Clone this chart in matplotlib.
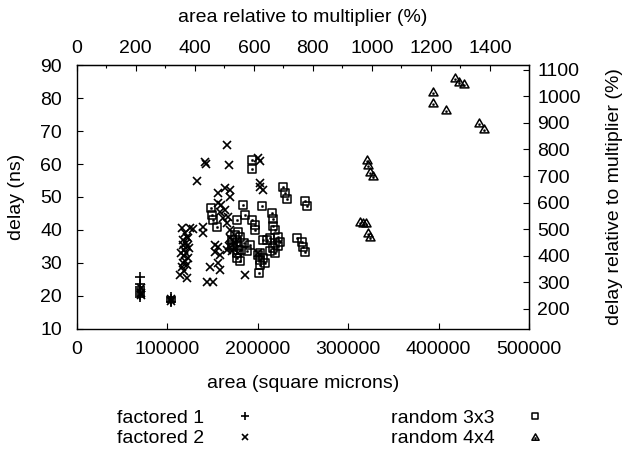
import numpy as np
import matplotlib.pyplot as plt
from matplotlib.path import Path

plt.rcParams['font.family'] = ['Liberation Sans', 'DejaVu Sans']
plt.rcParams['font.size'] = 14

# multiplier reference (for the relative axes)
mult_area = 32636.0   # square microns
mult_delay = 8.05     # ns

# factored 1 (area, delay)
f1_area = [70000, 70000, 70000, 70000, 70000, 70000, 70000, 70000,
           104000, 104000, 104000, 104000]
f1_delay = [25.8, 23.5, 22.8, 22.2, 21.5, 20.8, 20.3, 19.8,
            19.8, 19.0, 18.5, 18.1]

# factored 2
f2_area = [71000, 71000, 71000, 104500, 104500,
           116100, 125300, 119700, 121600, 118000, 120500, 122500, 119000,
           121000, 118500, 123000, 120000, 117500, 122000, 116100, 114200,
           121600, 119000, 124000, 117000, 123500, 115500, 128600,
           132700, 141800, 143000, 165800, 168500,
           140000, 140000,
           152900, 156500, 152900, 158400,
           147400, 156500, 158400,
           143700, 151000,
           156500, 163900, 169500, 169500, 156500, 158400, 162100, 165800,
           169500, 160000, 164000, 167000,
           200800, 202600, 203000, 206300, 202600,
           186100, 200800,
           172000, 175000, 168000, 170000, 166000, 178000]
f2_delay = [22.5, 21.0, 20.3, 19.0, 18.6,
            40.5, 40.5, 39.0, 38.0, 37.0, 36.0, 35.0, 34.0,
            33.0, 32.0, 31.5, 30.5, 30.0, 29.5, 28.9, 26.4,
            25.4, 27.5, 34.5, 35.5, 37.5, 33.0, 40.2,
            55.0, 60.6, 60.0, 65.8, 59.7,
            40.8, 39.0,
            35.5, 34.9, 33.4, 32.4,
            28.9, 29.9, 27.9,
            24.3, 24.3,
            51.1, 52.6, 52.1, 49.9, 48.1, 45.5, 43.5, 42.0,
            40.0, 47.5, 46.0, 44.0,
            61.7, 61.0, 54.2, 52.1, 53.0,
            26.4, 33.0,
            33.5, 36.0, 35.0, 37.5, 34.0, 33.0]

# random 3x3
r3_area = [148500, 149900, 151000, 154800,
           193500, 194300,
           183500, 204500,
           176900, 186100, 193500, 197100, 197100,
           178600, 180500, 176900, 171400,
           173100, 176900, 176900, 191600,
           215600, 216500, 216500, 213700, 210000, 219200, 222500, 219200,
           216500, 222500, 213700, 219200, 225000,
           200800, 202600, 202600, 202000, 208200, 206300, 206300, 202600,
           228400, 230300, 232200,
           252400, 254300,
           243200, 248700, 250500, 252400,
           175000, 178000, 182000, 185000, 188000, 172000, 180000]
r3_delay = [46.6, 44.5, 43.0, 41.0,
            61.2, 58.4,
            47.6, 47.4,
            43.0, 44.5, 43.0, 41.5, 40.0,
            39.5, 38.0, 36.5, 37.0,
            34.9, 32.9, 31.4, 35.5,
            45.3, 43.2, 41.2, 37.5, 37.0, 40.0, 38.0, 36.0,
            34.5, 35.0, 33.5, 33.0, 36.5,
            32.4, 30.9, 29.4, 26.9, 29.9, 31.4, 37.0, 33.0,
            52.9, 51.1, 49.3,
            48.9, 47.3,
            37.5, 36.5, 34.9, 33.4,
            38.5, 35.0, 34.0, 36.0, 33.5, 35.5, 30.5]

# random 4x4
r4_area = [418200, 423000, 428500, 394200, 394200, 408300, 445100, 450300,
           320600, 322400, 324300, 327200,
           313200, 316900, 319800, 322400, 324300]
r4_delay = [86.0, 85.0, 84.2, 81.9, 78.6, 76.4, 72.3, 70.7,
            61.2, 59.7, 57.7, 56.4,
            42.5, 42.2, 42.0, 39.2, 37.8]

# gnuplot-like markers: box with dot, triangle with dot
C = [Path.MOVETO, Path.LINETO, Path.LINETO, Path.LINETO, Path.CLOSEPOLY]
box_dot = Path.make_compound_path(
    Path([(-1, -1), (1, -1), (1, 1), (-1, 1), (-1, -1)], C),
    Path([(-0.12, -0.12), (0.12, -0.12), (0.12, 0.12), (-0.12, 0.12), (-0.12, -0.12)], C))
C3 = [Path.MOVETO, Path.LINETO, Path.LINETO, Path.CLOSEPOLY]
tri_dot = Path.make_compound_path(
    Path([(-1, -0.75), (1, -0.75), (0, 1), (-1, -0.75)], C3),
    Path([(-0.1, -0.35), (0.1, -0.35), (0.1, -0.15), (-0.1, -0.15), (-0.1, -0.35)], C))

fig = plt.figure(figsize=(6.27, 4.49), dpi=100)
ax = fig.add_axes([0.1223, 0.2673, 0.7214, 0.5879])

ax.plot(f1_area, f1_delay, ls='none', marker='+', ms=6.5, mew=1.2, color='black', label='factored 1')
ax.plot(f2_area, f2_delay, ls='none', marker='x', ms=6, mew=1.2, color='black', label='factored 2')
ax.plot(r3_area, r3_delay, ls='none', marker=box_dot, ms=6, mew=1.1, color='black',
        mfc='none', label='random 3x3')
ax.plot(r4_area, r4_delay, ls='none', marker=tri_dot, ms=6.5, mew=1.1, color='black',
        mfc='none', label='random 4x4')

ax.set_xlim(0, 500000)
ax.set_ylim(10, 90)
ax.set_xticks(np.arange(0, 500001, 100000))
ax.set_yticks(np.arange(10, 91, 10))
ax.tick_params(direction='in', length=4.5, width=0.8)
ax.tick_params(axis='x', top=False, pad=9)
ax.tick_params(axis='y', right=False, pad=10.5)
for s in ax.spines.values():
    s.set_linewidth(1.0)
ax.set_xlabel('area (square microns)', labelpad=12)
ax.set_ylabel('delay (ns)', labelpad=11)

top = ax.secondary_xaxis('top', functions=(lambda a: a / mult_area * 100,
                                           lambda p: p * mult_area / 100))
top.set_xticks(np.arange(0, 1401, 200))
top.set_xticks(np.arange(100, 1500, 200), minor=True)
top.tick_params(direction='in', length=4.5, width=0.8, pad=5.5)
top.tick_params(which='minor', direction='in', length=2.5, width=0.8)
top.set_xlabel('area relative to multiplier (%)', labelpad=13.5)

right = ax.secondary_yaxis('right', functions=(lambda d: d / mult_delay * 100,
                                               lambda p: p * mult_delay / 100))
right.set_yticks(np.arange(200, 1101, 100))
right.tick_params(direction='in', length=4.5, width=0.8, pad=6)
right.set_ylabel('delay relative to multiplier (%)', labelpad=18)

fig.legend(loc='upper left', bbox_to_anchor=(0.171, 0.110), ncol=2, frameon=False,
           markerfirst=False, handlelength=1.0, handletextpad=1.6, columnspacing=7.0,
           labelspacing=0.15, borderpad=0, markerscale=0.8)

fig.savefig('out.png', dpi=100)
